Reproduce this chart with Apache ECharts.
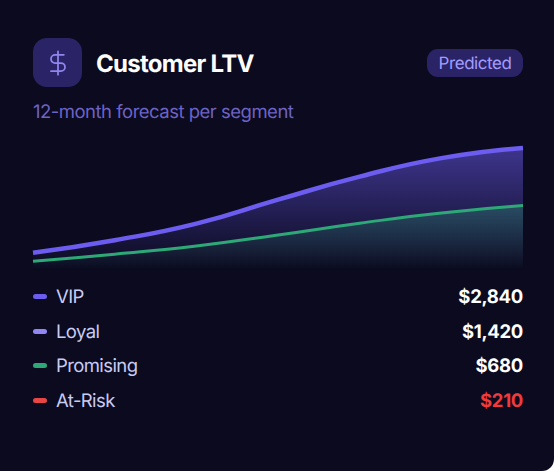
<!DOCTYPE html>
<html><head><meta charset="utf-8">
<script src="https://cdn.jsdelivr.net/npm/echarts@6/dist/echarts.min.js"></script>
<style>
html,body{margin:0;padding:0;background:#fff;width:554px;height:471px;overflow:hidden}
#card{position:absolute;left:0;top:0;width:554px;height:471px;background:#0b0a1e;border-bottom-right-radius:12px;font-family:Inter,sans-serif;overflow:hidden;text-rendering:geometricPrecision}
#chart{position:absolute;left:0;top:120px;width:554px;height:160px}
.abs{position:absolute;white-space:nowrap}
#icon{left:33px;top:38px;width:49px;height:49px;border-radius:14px;background:#2a2466}
#icon svg{position:absolute;left:10.5px;top:10.5px}
#title{left:96px;top:47.5px;font-size:24px;line-height:32px;font-weight:700;color:#fff;letter-spacing:-.73px}
#badge{left:427px;top:49px;width:96px;height:28px;border-radius:11px;background:#2a2466;color:#a29bfe;font-size:17px;line-height:28px;text-align:center;letter-spacing:-.45px;padding-top:.5px;box-sizing:border-box}
#sub{left:33px;top:99.5px;font-size:18.5px;line-height:24px;color:#6c63c7;letter-spacing:-.5px}
.dash{position:absolute;left:33px;width:14px;height:5px;border-radius:3px}
.name{position:absolute;left:56px;font-size:18.5px;line-height:24px;color:#c8ccf5;white-space:nowrap;letter-spacing:-.6px}
.val{position:absolute;right:31px;font-size:18.5px;line-height:24px;font-weight:700;color:#fff;white-space:nowrap;letter-spacing:-.3px}
</style></head><body>
<div id="card">
<div id="icon" class="abs"><svg width="28" height="28" viewBox="0 0 24 24" fill="none" stroke="#9086ee" stroke-width="1.5" stroke-linecap="round" stroke-linejoin="round"><line x1="12" y1="2" x2="12" y2="22"/><path d="M17 5H9.5a3.5 3.5 0 0 0 0 7h5a3.5 3.5 0 0 1 0 7H6"/></svg></div>
<div id="title" class="abs">Customer LTV</div>
<div id="badge" class="abs">Predicted</div>
<div id="sub" class="abs">12-month forecast per segment</div>
<div id="chart"></div>
<div id="legend"></div>
</div>
<script>
const months = ['M0','M2','M4','M6','M8','M10','M12'];
const vipValues = [403,694,1078,1637,2172,2603,2840];
const promisingValues = [203,368,559,815,1089,1327,1501];
const segmentNames = ['VIP','Loyal','Promising','At-Risk'];
const segmentValues = ['$2,840','$1,420','$680','$210'];
const segmentColors = ['#6c5cf0','#9286f5','#2fa878','#e84545'];
const rowTops = [284.5,319.5,353.5,388.5];

const legend = document.getElementById('legend');
segmentNames.forEach((n,i)=>{
  const t = rowTops[i];
  legend.insertAdjacentHTML('beforeend',
   `<div class="dash" style="top:${Math.floor(t)+10}px;background:${segmentColors[i]}"></div>`+
   `<div class="name" style="top:${t}px">${n}</div>`+
   `<div class="val" style="top:${t}px;${i===3?'color:#ef3b3b':''}">${segmentValues[i]}</div>`);
});

const chart = echarts.init(document.getElementById('chart'));
function grad(c0,c1){return {type:'linear',x:0,y:0,x2:0,y2:1,colorStops:[{offset:0,color:c0},{offset:1,color:c1}]};}
chart.setOption({
  animation:false,
  grid:{left:33,top:12.5,width:490,height:137.5},
  xAxis:{type:'category',data:months,boundaryGap:false,show:false},
  yAxis:{type:'value',min:0,max:3200,show:false},
  series:[
    {name:'VIP',type:'line',data:vipValues,smooth:0.5,symbol:'none',
     lineStyle:{color:'#6c5cf0',width:4.5},
     areaStyle:{color:grad('rgba(108,92,240,0.76)','rgba(108,92,240,0)')}},
    {name:'Promising',type:'line',data:promisingValues,smooth:0.5,symbol:'none',
     lineStyle:{color:'#2fa878',width:3},
     areaStyle:{color:grad('rgba(47,168,120,0.46)','rgba(47,168,120,0)')}}
  ]
});
</script>
</body></html>
